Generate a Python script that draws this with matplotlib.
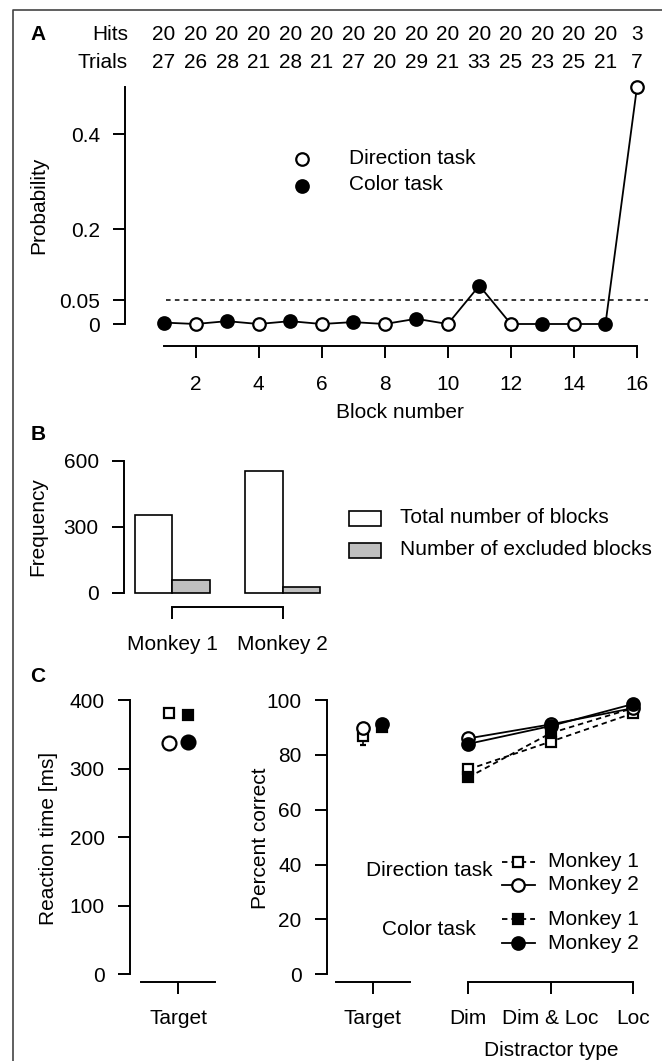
import matplotlib
matplotlib.use("Agg")
import matplotlib.pyplot as plt
from matplotlib.transforms import blended_transform_factory
from matplotlib.patches import Rectangle

FS = 15
plt.rcParams['font.family'] = ['Liberation Sans', 'DejaVu Sans']
plt.rcParams['font.size'] = FS

# ---- data ----
blocks = list(range(1, 17))
hits = [20, 20, 20, 20, 20, 20, 20, 20, 20, 20, 20, 20, 20, 20, 20, 3]
trials = [27, 26, 28, 21, 28, 21, 27, 20, 29, 21, 33, 25, 23, 25, 21, 7]
probability = [0.003, 0.0, 0.006, 0.0, 0.006, 0.0, 0.004, 0.0, 0.011, 0.0,
               0.081, 0.0, 0.0, 0.0, 0.0, 0.5]
block_task = ['color', 'direction'] * 8
alpha_level = 0.05

monkeys = ['Monkey 1', 'Monkey 2']
total_blocks = [354, 553]
excluded_blocks = [58, 25]

rt_direction = [381, 338]     # monkey 1, monkey 2
rt_color = [378, 339]
target_pc_direction = [86.9, 89.9]
target_pc_color = [90.3, 91.2]
target_pc_err_direction = [3.3, 1.0]
target_pc_err_color = [1.0, 1.0]

distractor_types = ['Dim', 'Dim & Loc', 'Loc']
pc_direction_m1 = [74.7, 84.8, 95.1]
pc_direction_m2 = [86.0, 91.1, 97.0]
pc_color_m1 = [71.8, 87.9, 97.0]
pc_color_m2 = [84.0, 90.5, 98.5]

W, H = 662, 1061
fig = plt.figure(figsize=(W / 100, H / 100), dpi=100)

# overlay in pixel coordinates for labels / legends / frame
ov = fig.add_axes([0, 0, 1, 1])
ov.set_xlim(0, W)
ov.set_ylim(H, 0)
ov.axis('off')


def make_axes(xpix, ypix, xcal, ycal):
    x0, x1 = xpix
    yt, yb = ypix
    ax = fig.add_axes([x0 / W, 1 - yb / H, (x1 - x0) / W, (yb - yt) / H])
    (va, pa), (vb, pb) = xcal
    s = (pb - pa) / (vb - va)
    ax.set_xlim(va + (x0 - pa) / s, va + (x1 - pa) / s)
    (va, pa), (vb, pb) = ycal
    s = (pb - pa) / (vb - va)
    ax.set_ylim(va + (yb - pa) / s, va + (yt - pa) / s)
    ax.patch.set_visible(False)
    for sp in ['top', 'right']:
        ax.spines[sp].set_visible(False)
    for sp in ax.spines.values():
        sp.set_linewidth(1.4)
    ax.tick_params(direction='out', length=8.6, width=1.4, labelsize=FS)
    ax.tick_params(axis='y', pad=9.5)
    ax.tick_params(axis='x', pad=12)
    return ax


# frame
ov.plot([12.5, 12.5, W], [H, 10, 10], color='#444444', lw=1.2)

# ---------------- panel A ----------------
axA = make_axes((125, 652), (87, 346), ((1, 164), (16, 637)), ((0, 324), (0.5, 87)))
axA.spines['left'].set_bounds(0, 0.5)
axA.spines['bottom'].set_bounds(1, 16)
axA.set_yticks([0, 0.05, 0.2, 0.4])
axA.set_yticklabels(['0', '0.05', '0.2', '0.4'])
axA.set_xticks(range(2, 17, 2))
axA.hlines(alpha_level, blocks[0] + 0.05, blocks[-1] + 0.35, colors='k',
           linestyles=(0, (3.0, 2.8)), lw=1.1)
axA.plot(blocks, probability, color='k', lw=1.3, zorder=2, clip_on=False)
for task, fc in [('color', 'k'), ('direction', 'white')]:
    xs = [b for b, t in zip(blocks, block_task) if t == task]
    ys = [p for p, t in zip(probability, block_task) if t == task]
    axA.plot(xs, ys, 'o', ms=9, mfc=fc, mec='k', mew=1.6, zorder=3, clip_on=False)

tr = blended_transform_factory(axA.transData, ov.transData)
for b, h, t in zip(blocks, hits, trials):
    axA.text(b, 35, str(h), transform=tr, ha='center', va='center')
    axA.text(b, 63, str(t), transform=tr, ha='center', va='center')
ov.text(128, 35, 'Hits', ha='right', va='center')
ov.text(128, 63, 'Trials', ha='right', va='center')
ov.text(38, 35, 'A', ha='center', va='center', fontweight='bold')
ov.text(39, 205, 'Probability', rotation=90, ha='center', va='center')
ov.text(400, 412, 'Block number', ha='center', va='center')
ov.plot([302], [159], 'o', ms=9, mfc='white', mec='k', mew=1.6)
ov.plot([302], [186], 'o', ms=9, mfc='k', mec='k', mew=1.6)
ov.text(349, 158, 'Direction task', ha='left', va='center')
ov.text(349, 184, 'Color task', ha='left', va='center')

# ---------------- panel B ----------------
axB = make_axes((124, 330), (461, 606.7), ((1, 172.3), (2, 282.7)), ((0, 592.7), (600, 461)))
axB.spines['left'].set_bounds(0, 600)
axB.spines['bottom'].set_bounds(1, 2)
axB.set_yticks([0, 300, 600])
pos = [1, 2]
bw = 0.338
axB.bar([p - bw / 2 for p in pos], total_blocks, width=bw, color='white',
        edgecolor='k', lw=1.2)
axB.bar([p + bw / 2 for p in pos], excluded_blocks, width=bw, color='#bfbfbf',
        edgecolor='k', lw=1.2)
axB.set_xticks(pos)
axB.set_xticklabels(monkeys)
ov.text(38, 435, 'B', ha='center', va='center', fontweight='bold')
ov.text(38, 527, 'Frequency', rotation=90, ha='center', va='center')
ov.add_patch(Rectangle((349, 511), 31.7, 15, facecolor='white', edgecolor='k', lw=1.2))
ov.add_patch(Rectangle((349, 543.3), 31.7, 15, facecolor='#bfbfbf', edgecolor='k', lw=1.2))
ov.text(400, 517.3, 'Total number of blocks', ha='left', va='center')
ov.text(400, 549.3, 'Number of excluded blocks', ha='left', va='center')

# ---------------- panel C ----------------
ov.text(38, 677, 'C', ha='center', va='center', fontweight='bold')
offs = [-0.25, 0.25]

# reaction time
axC1 = make_axes((130, 222), (700, 982.3), ((0, 178.3), (1, 215.3)), ((0, 974.3), (400, 700)))
axC1.spines['left'].set_bounds(0, 400)
axC1.spines['bottom'].set_bounds(-1, 1)
axC1.set_yticks(range(0, 401, 100))
axC1.set_xticks([0])
axC1.set_xticklabels(['Target'])
axC1.tick_params(axis='x', pad=10.5)
axC1.plot([offs[0]], [rt_direction[0]], 's', ms=7.5, mfc='white', mec='k', mew=1.6, clip_on=False)
axC1.plot([offs[0]], [rt_direction[1]], 'o', ms=10, mfc='white', mec='k', mew=1.6, clip_on=False)
axC1.plot([offs[1]], [rt_color[0]], 's', ms=7.5, mfc='k', mec='k', mew=1.6, clip_on=False)
axC1.plot([offs[1]], [rt_color[1]], 'o', ms=10, mfc='k', mec='k', mew=1.6, clip_on=False)
ov.text(49, 838, 'Reaction time [ms]', rotation=90, ha='center', va='center')

# percent correct, target
axC2 = make_axes((326.7, 415), (700, 982.3), ((0, 372.7), (1, 409.7)), ((0, 974.3), (100, 700)))
axC2.spines['left'].set_bounds(0, 100)
axC2.spines['bottom'].set_bounds(-1, 1)
axC2.set_yticks(range(0, 101, 20))
axC2.set_xticks([0])
axC2.set_xticklabels(['Target'])
axC2.tick_params(axis='x', pad=10.5)
axC2.errorbar([offs[0]], [target_pc_direction[0]], yerr=[target_pc_err_direction[0]],
              fmt='s', ms=7, mfc='white', mec='k', mew=1.6, ecolor='k', elinewidth=1.2,
              capsize=2, clip_on=False)
axC2.errorbar([offs[0]], [target_pc_direction[1]], yerr=[target_pc_err_direction[1]],
              fmt='o', ms=9, mfc='white', mec='k', mew=1.6, ecolor='k', elinewidth=1.2,
              capsize=2, clip_on=False)
axC2.errorbar([offs[1]], [target_pc_color[0]], yerr=[target_pc_err_color[0]],
              fmt='s', ms=7, mfc='k', mec='k', mew=1.6, ecolor='k', elinewidth=1.2,
              capsize=2, clip_on=False)
axC2.errorbar([offs[1]], [target_pc_color[1]], yerr=[target_pc_err_color[1]],
              fmt='o', ms=9, mfc='k', mec='k', mew=1.6, ecolor='k', elinewidth=1.2,
              capsize=2, clip_on=False)
ov.text(260.5, 838, 'Percent correct', rotation=90, ha='center', va='center')

# percent correct, distractors
axC3 = make_axes((415, 655), (700, 982.3), ((0, 468.3), (2, 632.7)), ((0, 974.3), (100, 700)))
axC3.spines['left'].set_visible(False)
axC3.tick_params(axis='y', left=False, labelleft=False)
axC3.spines['bottom'].set_bounds(0, 2)
axC3.set_xticks([0, 1, 2])
axC3.set_xticklabels(distractor_types)
axC3.tick_params(axis='x', pad=10.5)
xd = list(range(len(distractor_types)))
dash = (0, (3, 2.2))
axC3.plot(xd, pc_direction_m1, ls=dash, color='k', lw=1.3, marker='s', ms=7,
          mfc='white', mec='k', mew=1.6, clip_on=False)
axC3.plot(xd, pc_color_m1, ls=dash, color='k', lw=1.3, marker='s', ms=7,
          mfc='k', mec='k', mew=1.6, clip_on=False)
axC3.plot(xd, pc_direction_m2, ls='-', color='k', lw=1.3, marker='o', ms=9,
          mfc='white', mec='k', mew=1.6, clip_on=False)
axC3.plot(xd, pc_color_m2, ls='-', color='k', lw=1.3, marker='o', ms=9,
          mfc='k', mec='k', mew=1.6, clip_on=False)
ov.text(551, 1050, 'Distractor type', ha='center', va='center')

# legend of panel C
leg_rows = [(861.7, dash, 's', 7, 'white', 'Monkey 1'),
            (885.0, '-', 'o', 9, 'white', 'Monkey 2'),
            (919.3, dash, 's', 7, 'k', 'Monkey 1'),
            (943.3, '-', 'o', 9, 'k', 'Monkey 2')]
for y, ls, mk, ms, fc, lab in leg_rows:
    ov.plot([501.7, 535], [y, y], ls=ls, color='k', lw=1.3)
    ov.plot([518.3], [y], marker=mk, ms=ms, mfc=fc, mec='k', mew=1.6)
    ov.text(548.3, y, lab, ha='left', va='center')
ov.text(429.3, 870.7, 'Direction task', ha='center', va='center')
ov.text(429.3, 929.3, 'Color task', ha='center', va='center')

fig.savefig('out.png', dpi=100)
